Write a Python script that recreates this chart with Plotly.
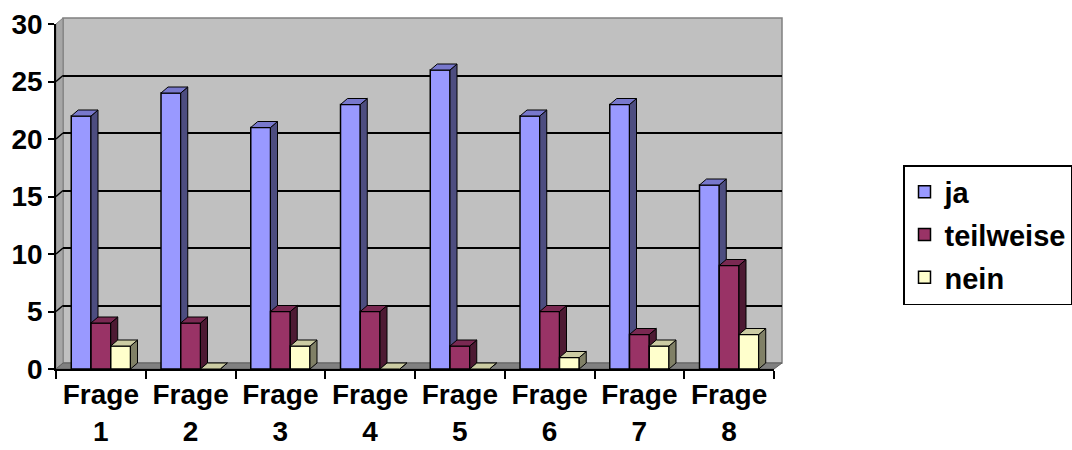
import plotly.graph_objects as go

# ---- data -------------------------------------------------------------
categories = ["Frage 1", "Frage 2", "Frage 3", "Frage 4",
              "Frage 5", "Frage 6", "Frage 7", "Frage 8"]
tick_text = ["Frage<br>1", "Frage<br>2", "Frage<br>3", "Frage<br>4",
             "Frage<br>5", "Frage<br>6", "Frage<br>7", "Frage<br>8"]
series_names = ["ja", "teilweise", "nein"]
ja = [22, 24, 21, 23, 26, 22, 23, 16]
teilweise = [4, 4, 5, 5, 2, 5, 3, 9]
nein = [2, 0, 2, 0, 0, 1, 2, 3]
y_ticks = [0, 5, 10, 15, 20, 25, 30]
grid_vals = [5, 10, 15, 20, 25]

# ---- geometry (figure pixels) ------------------------------------------
W, H = 1072, 450
FRONT_L, FRONT_R, FRONT_T, FRONT_B = 56, 774, 24, 369   # front plane
DEPTH_X, DEPTH_Y = 7, 6                               # 3-D depth in px
Y_MAX = 30


def fx(p):
    return p / W


def fy(p):
    return 1 - p / H


def bold(s):
    return f"<b>{s}</b>"


px_per_cat = (FRONT_R - FRONT_L) / len(categories)
px_per_unit = (FRONT_B - FRONT_T) / Y_MAX
BAR_W = 0.22                      # bar width in category units
DX = DEPTH_X / px_per_cat         # depth offset in category units
DY = DEPTH_Y / px_per_unit        # depth offset in value units

FONT = "Liberation Sans, Arial, sans-serif"

# front, top, side colours per series
styles = {
    "ja": ("#9999FF", "#7878CC", "#4D4D80"),
    "teilweise": ("#993366", "#7A2952", "#4D1A33"),
    "nein": ("#FFFFCC", "#CCCCA3", "#808066"),
}
values = {"ja": ja, "teilweise": teilweise, "nein": nein}

fig = go.Figure()

# empty trace so the back-wall subplot (gridlines) exists
fig.add_trace(go.Scatter(x=[], y=[], xaxis="x", yaxis="y",
                         showlegend=False, hoverinfo="skip"))

xs = list(range(len(categories)))
for k, name in enumerate(series_names):
    ax = k + 2
    vals = values[name]
    front_c, top_c, side_c = styles[name]
    off = -1.5 * BAR_W + k * BAR_W

    fig.add_trace(go.Bar(
        x=xs, y=vals, width=BAR_W, offset=off, name=bold(name),
        marker=dict(color=front_c, line=dict(color="black", width=1.5)),
        xaxis=f"x{ax}", yaxis=f"y{ax}", legendgroup=name,
    ))

    top_x, top_y, side_x, side_y = [], [], [], []
    for i, v in zip(xs, vals):
        xl = i + off
        xr = xl + BAR_W
        top_x += [xl, xl + DX, xr + DX, xr, xl, None]
        top_y += [v, v + DY, v + DY, v, v, None]
        side_x += [xr, xr + DX, xr + DX, xr, xr, None]
        side_y += [0, DY, v + DY, v, 0, None]

    for px_, py_, col in ((side_x, side_y, side_c), (top_x, top_y, top_c)):
        fig.add_trace(go.Scatter(
            x=px_, y=py_, mode="lines", fill="toself", fillcolor=col,
            line=dict(color="black", width=1), showlegend=False,
            hoverinfo="skip", xaxis=f"x{ax}", yaxis=f"y{ax}",
            legendgroup=name,
        ))

# ---- walls and floor ---------------------------------------------------
shapes = []
back_l, back_r = FRONT_L + DEPTH_X, FRONT_R + DEPTH_X + 1
back_t, back_b = FRONT_T - DEPTH_Y, FRONT_B - DEPTH_Y
shapes.append(dict(type="rect", xref="paper", yref="paper", layer="below",
                   x0=fx(back_l), x1=fx(back_r), y0=fy(back_b), y1=fy(back_t),
                   fillcolor="#C0C0C0", line=dict(color="#808080", width=1.5)))
shapes.append(dict(
    type="path", xref="paper", yref="paper", layer="below",
    path=(f"M{fx(FRONT_L)},{fy(FRONT_B)} L{fx(back_l)},{fy(back_b)} "
          f"L{fx(back_l)},{fy(back_t)} L{fx(FRONT_L)},{fy(FRONT_T)} Z"),
    fillcolor="#A6A6A6", line=dict(color="#808080", width=1)))
shapes.append(dict(
    type="path", xref="paper", yref="paper", layer="below",
    path=(f"M{fx(FRONT_L)},{fy(FRONT_B)} L{fx(back_l)},{fy(back_b)} "
          f"L{fx(back_r)},{fy(back_b)} L{fx(FRONT_R)},{fy(FRONT_B)} Z"),
    fillcolor="#808080", line=dict(color="#606060", width=1)))
# gridlines continuing across the left wall
for v in grid_vals:
    yv = FRONT_B - v * px_per_unit
    shapes.append(dict(type="line", xref="paper", yref="paper", layer="below",
                       x0=fx(FRONT_L), y0=fy(yv), x1=fx(back_l),
                       y1=fy(yv - DEPTH_Y),
                       line=dict(color="black", width=1.5)))

layout_axes = dict(
    # back wall: carries the horizontal gridlines
    xaxis=dict(domain=[fx(back_l), fx(back_r)], range=[0, 1], visible=False,
               anchor="y", automargin=False),
    yaxis=dict(domain=[fy(back_b), fy(back_t)], range=[0, Y_MAX],
               tickmode="array", tickvals=grid_vals, showticklabels=False,
               showgrid=True, gridcolor="black", gridwidth=2,
               zeroline=False, showline=False, ticks="", anchor="x",
               automargin=False),
    # front plane: axes, ticks and labels
    xaxis2=dict(domain=[fx(FRONT_L), fx(FRONT_R)], range=[-0.5, 7.5],
                anchor="y2", tickmode="array", tickvals=xs,
                ticktext=[bold(t) for t in tick_text],
                ticks="", showline=True, linecolor="black", linewidth=1.5,
                showgrid=False, zeroline=False, automargin=False,
                tickfont=dict(family=FONT, size=28, color="black"),
                minor=dict(tickmode="array",
                           tickvals=[i - 0.5 for i in range(9)],
                           ticks="outside", ticklen=8, tickwidth=1.5,
                           tickcolor="black", showgrid=False)),
    yaxis2=dict(domain=[fy(FRONT_B), fy(FRONT_T)], range=[0, Y_MAX],
                anchor="x2", tickmode="array", tickvals=y_ticks,
                ticktext=[bold(v) for v in y_ticks],
                ticks="outside", ticklen=6, tickwidth=1.5, tickcolor="black",
                showline=True, linecolor="black", linewidth=1.5,
                showgrid=False, zeroline=False, automargin=False,
                tickfont=dict(family=FONT, size=28, color="black")),
)
for ax in (3, 4):
    layout_axes[f"xaxis{ax}"] = dict(overlaying="x2", range=[-0.5, 7.5],
                                     visible=False, anchor=f"y{ax}")
    layout_axes[f"yaxis{ax}"] = dict(overlaying="y2", range=[0, Y_MAX],
                                     visible=False, anchor=f"x{ax}")

fig.update_layout(
    width=W, height=H,
    margin=dict(l=0, r=0, t=0, b=0, autoexpand=False),
    paper_bgcolor="white",
    plot_bgcolor="rgba(0,0,0,0)",
    font=dict(family=FONT, color="black"),
    showlegend=True,
    legend=dict(x=fx(903), y=fy(165), xanchor="left", yanchor="top",
                bgcolor="white", bordercolor="black", borderwidth=1.5,
                traceorder="grouped", tracegroupgap=2,
                font=dict(family=FONT, size=29, color="black")),
    shapes=shapes,
    **layout_axes,
)

fig.write_html("out.html")
